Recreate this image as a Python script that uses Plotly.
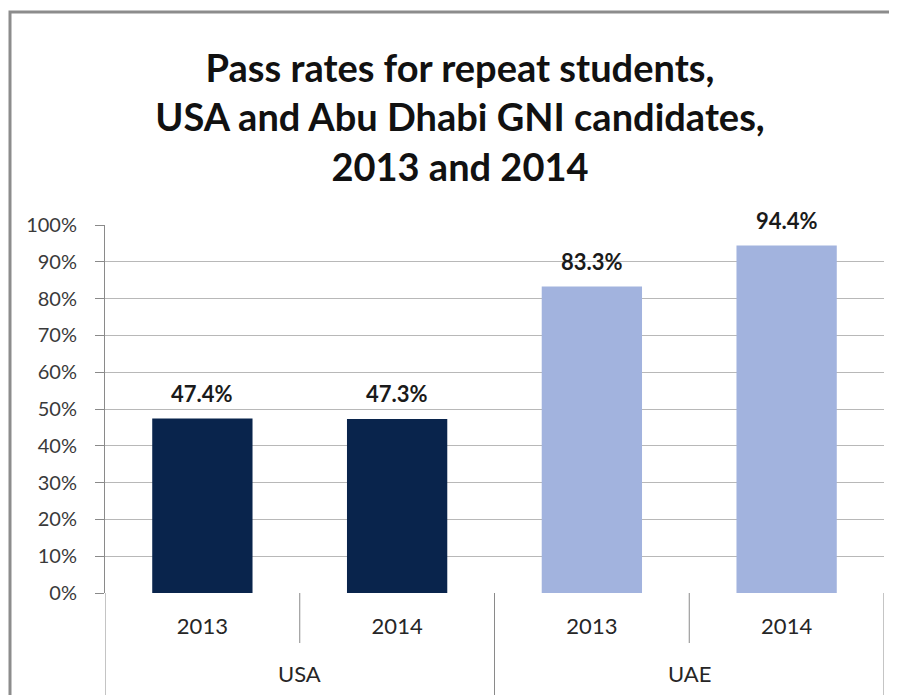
import plotly.graph_objects as go

countries = ["USA", "USA", "UAE", "UAE"]
years = ["2013", "2014", "2013", "2014"]
pass_rates = [0.474, 0.473, 0.833, 0.944]
bar_colors = ["#09244C", "#09244C", "#A2B3DE", "#A2B3DE"]
y_ticks = [0, 0.1, 0.2, 0.3, 0.4, 0.5, 0.6, 0.7, 0.8, 0.9, 1.0]
y_tick_labels = [f"{int(v*100)}%" for v in y_ticks]
groups = ["USA", "UAE"]

FONT = "Lato, Open Sans, sans-serif"
cats = [f"{c} {y}" for c, y in zip(countries, years)]
n = len(cats)

# page has an 8px body margin; figure sized to fit the window
W, H = 889, 687
L, T, R, B = 97, 217, 13, 102
plot_w = W - L - R
plot_h = H - T - B

fig = go.Figure()
fig.add_trace(go.Bar(
    x=cats, y=pass_rates, marker=dict(color=bar_colors, line=dict(width=0)),
    width=0.515, hoverinfo="skip",
))

annotations = []
for i, v in enumerate(pass_rates):
    annotations.append(dict(
        x=i, y=v, xref="x", yref="y", text=f"<b>{v*100:.1f}%</b>", showarrow=False,
        yanchor="middle", yshift=25,
        font=dict(family=FONT, size=22, color="#1a1a1a"),
    ))
for g in groups:
    idx = [i for i, c in enumerate(countries) if c == g]
    annotations.append(dict(
        x=(idx[0] + idx[-1]) / 2, y=-80.5 / plot_h, xref="x", yref="paper", text=g,
        showarrow=False, yanchor="middle",
        font=dict(family=FONT, size=22, color="#262626"),
    ))

shapes = []
for i in range(n + 1):
    b = i - 0.5
    is_group_edge = i == 0 or i == n or countries[i] != countries[i - 1]
    shapes.append(dict(
        type="line", xref="x", yref="paper", x0=b, x1=b, y0=0,
        y1=-(B + 5) / plot_h if is_group_edge else -50 / plot_h,
        line=dict(color="#8a8a8a", width=1),
    ))
# outer chart border
shapes.append(dict(
    type="rect", xref="paper", yref="paper",
    x0=(2 - L) / plot_w, x1=1.2, y0=-0.5, y1=1 + (T - 4) / plot_h,
    line=dict(color="#8c8c8c", width=3), fillcolor="rgba(0,0,0,0)",
))

fig.update_layout(
    width=W, height=H,
    margin=dict(l=L, r=R, t=T, b=B),
    paper_bgcolor="white", plot_bgcolor="white",
    showlegend=False,
    title=dict(
        text="<b>Pass rates for repeat students,<br>USA and Abu Dhabi GNI candidates,<br>2013 and 2014</b>",
        x=452 / W, xanchor="center", y=1 - 74 / H, yanchor="middle",
        font=dict(family=FONT, size=38, color="#111"),
    ),
    xaxis=dict(
        type="category", range=[-0.5, n - 0.5], tickvals=cats, ticktext=years,
        showgrid=False, showline=False, zeroline=False, ticks="",
        ticklabelstandoff=18,
        tickfont=dict(family=FONT, size=22, color="#262626"),
    ),
    yaxis=dict(
        range=[0, 1], tickvals=y_ticks, ticktext=y_tick_labels,
        showgrid=True, gridcolor="#b8b8b8", gridwidth=1,
        showline=True, linecolor="#8a8a8a", linewidth=1,
        ticks="outside", ticklen=9, tickcolor="#8a8a8a",
        zeroline=False, ticklabelstandoff=14,
        tickfont=dict(family=FONT, size=20, color="#3a3a3a"),
    ),
    annotations=annotations,
    shapes=shapes,
)

fig.write_html("out.html")
